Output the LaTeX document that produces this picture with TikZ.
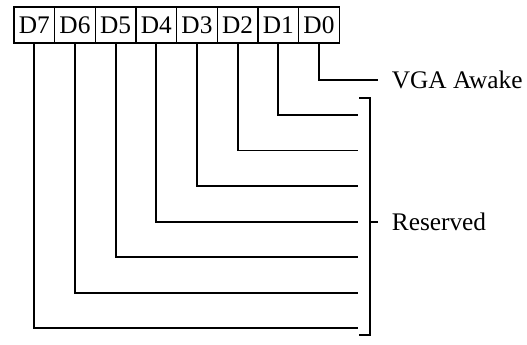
\documentclass[tikz,border=0pt]{standalone}
\usepackage{fontspec}
\setmainfont{Liberation Serif}
\usetikzlibrary{positioning}

\begin{document}
\begin{tikzpicture}[x=0.75pt, y=-0.75pt, line width=1.3pt, every node/.style={font=\fontsize{19}{21}\selectfont},
  bit/.style={rectangle, draw, line width=1.1pt, minimum width=30.5pt, minimum height=27pt, inner sep=0pt, outer sep=0pt},
  lbl/.style={anchor=west, inner sep=0pt}]
\useasboundingbox (0,0) rectangle (527,345);
\node[bit] (d7) at (34.3,25) {D7};
\node[bit, right=0pt of d7] (d6) {D6};
\node[bit, right=0pt of d6] (d5) {D5};
\node[bit, right=0pt of d5] (d4) {D4};
\node[bit, right=0pt of d4] (d3) {D3};
\node[bit, right=0pt of d3] (d2) {D2};
\node[bit, right=0pt of d2] (d1) {D1};
\node[bit, right=0pt of d1] (d0) {D0};

\node[lbl] (awake) at (391,80) {VGA Awake};
\node[lbl] (reserved) at (391,222) {Reserved};

\coordinate (e0) at (378,80);
\coordinate (e1) at (358,115);
\coordinate (e2) at (358,150.5);
\coordinate (e3) at (358,186);
\coordinate (e4) at (358,222);
\coordinate (e5) at (358,257);
\coordinate (e6) at (358,293);
\coordinate (e7) at (358,328);
\coordinate (btop) at (370,98);
\coordinate (bbot) at (370,335);
\coordinate (bmid) at (370,222);

\draw (d0.south) |- (e0);
\draw (d1.south) |- (e1);
\draw (d2.south) |- (e2);
\draw (d3.south) |- (e3);
\draw (d4.south) |- (e4);
\draw (d5.south) |- (e5);
\draw (d6.south) |- (e6);
\draw (d7.south) |- (e7);

\draw ([xshift=-8.25pt]btop) -- (btop) -- (bbot) -- ([xshift=-8.25pt]bbot);
\draw (bmid) -- ([xshift=6pt]bmid);
\end{tikzpicture}
\end{document}
